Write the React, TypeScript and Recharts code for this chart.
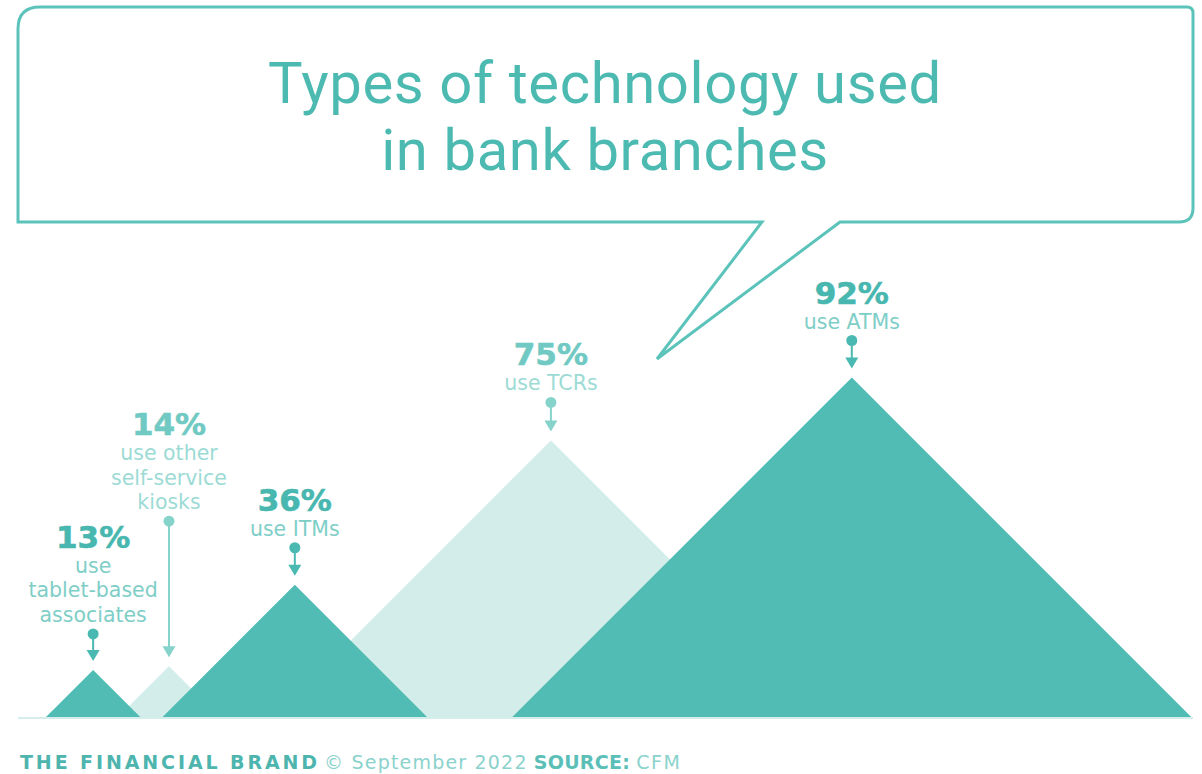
import React from 'react';
import { ComposedChart, Area, XAxis, YAxis, ReferenceLine, LabelList, Customized } from 'recharts';

// ---- data ----
const categories = ['tablet-based associates', 'other self-service kiosks', 'ITMs', 'TCRs', 'ATMs'];
const values = [13, 14, 36, 75, 92];
const positions = [20.3, 40.8, 74.8, 144.0, 225.3];
const subLabels = [
  ['use', 'tablet-based', 'associates'],
  ['use other', 'self-service', 'kiosks'],
  ['use ITMs'],
  ['use TCRs'],
  ['use ATMs'],
];
const tones = ['dark', 'light', 'dark', 'light', 'dark'];
const titleLines = ['Types of technology used', 'in bank branches'];

// ---- style ----
const pinLengths = [36, 145, 37, 38, 37];
const DARK = '#4bbab2';
const LIGHT = '#d3edea';
const W = 1202;
const H = 774;

const seriesData = values.map((v, i) => [
  { x: positions[i] - v, y: 0 },
  { x: positions[i], y: v },
  { x: positions[i] + v, y: 0 },
]);

const drawOrder = [1, 3, 0, 2, 4];

const renderPeakLabel = (i: number) => (props: any) => {
  const { x, y, index } = props;
  if (index !== 1) return null;
  const dark = tones[i] === 'dark';
  const pctColor = dark ? '#47b7af' : '#70cac3';
  const subColor = dark ? '#7ecec7' : '#9cdbd5';
  const pinColor = dark ? '#4ab9b1' : '#86d3cc';
  const circleY = y - pinLengths[i];
  const tipY = y - 9;
  const lines = subLabels[i];
  const lastBase = circleY - 12;
  const firstBase = lastBase - (lines.length - 1) * 24.5;
  const pctBase = firstBase - 25;
  return (
    <g key={`lbl-${i}`}>
      <text x={x} y={pctBase} textAnchor="middle" fontFamily="'DejaVu Sans'" fontWeight={700} fontSize={31} fill={pctColor} stroke={pctColor} strokeWidth={0.6}>
        {values[i]}%
      </text>
      {lines.map((l, k) => (
        <text key={k} x={x} y={firstBase + k * 24.5} textAnchor="middle" fontFamily="'DejaVu Sans'" fontSize={20.5} fill={subColor}>
          {l}
        </text>
      ))}
      <circle cx={x} cy={circleY} r={5.5} fill={pinColor} />
      <line x1={x} y1={circleY} x2={x} y2={tipY - 8} stroke={pinColor} strokeWidth={2} />
      <path d={`M${x - 6.5},${tipY - 11} L${x + 6.5},${tipY - 11} L${x},${tipY} Z`} fill={pinColor} />
    </g>
  );
};

const Decorations = () => {
  const L = 18, T = 7, R = 1193, B = 222;
  const bubble = `M${L},${B} L${L},${T + 22} Q${L},${T} ${L + 22},${T} L${R - 6},${T} Q${R},${T} ${R},${T + 6} L${R},${B - 14} Q${R},${B} ${R - 14},${B} L840,${B} L657,359 L762,${B} Z`;
  return (
    <g>
      <path d={bubble} fill="none" stroke="#5cc3bb" strokeWidth={3} strokeLinejoin="miter" />
      <text x={605} y={103} textAnchor="middle" fontFamily="Roboto" fontWeight={400} fontSize={58} letterSpacing={0.6} fill="#4dbab2">
        {titleLines[0]}
      </text>
      <text x={605} y={170} textAnchor="middle" fontFamily="Roboto" fontWeight={400} fontSize={58} letterSpacing={0.6} fill="#4dbab2">
        {titleLines[1]}
      </text>
      <text x={20} y={769} fontFamily="'DejaVu Sans'" fontSize={19}>
        <tspan fontWeight={700} letterSpacing={2.9} fill="#4db5ae">THE FINANCIAL BRAND</tspan>
        <tspan dx={4} letterSpacing={1.2} fill="#8ad2cc">© September 2022</tspan>
        <tspan dx={6} fontWeight={700} letterSpacing={0.3} fill="#5bbfb8">SOURCE:</tspan>
        <tspan dx={6} letterSpacing={1.5} fill="#8ad2cc">CFM</tspan>
      </text>
    </g>
  );
};

export default function App() {
  return (
    <div style={{ position: 'absolute', left: 0, top: 0, width: W, height: H, background: '#ffffff' }}>
      <ComposedChart width={W} height={H} margin={{ top: 0, right: 9, bottom: 56, left: 18 }}>
        <XAxis type="number" dataKey="x" domain={[0, 317.5]} hide allowDataOverflow />
        <YAxis type="number" domain={[0, 194]} hide allowDataOverflow />
        <ReferenceLine y={0} stroke="#d6eeeb" strokeWidth={2} ifOverflow="visible" />
        {drawOrder.map((i) => (
          <Area
            key={categories[i]}
            name={categories[i]}
            data={seriesData[i]}
            dataKey="y"
            type="linear"
            baseValue={0}
            stroke="none"
            fill={tones[i] === 'dark' ? DARK : LIGHT}
            fillOpacity={tones[i] === 'dark' ? 0.97 : 1}
            isAnimationActive={false}
            dot={false}
            activeDot={false}
          >
            <LabelList dataKey="y" content={renderPeakLabel(i)} />
          </Area>
        ))}
        <Customized component={Decorations} />
      </ComposedChart>
    </div>
  );
}
